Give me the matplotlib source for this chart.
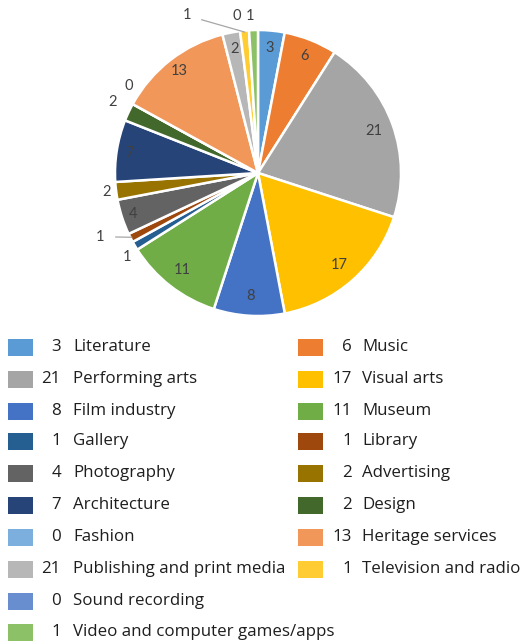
import numpy as np
import matplotlib
matplotlib.use("Agg")
import matplotlib.pyplot as plt
from matplotlib.patches import Rectangle

plt.rcParams['font.family'] = ['Lato', 'DejaVu Sans']

# sectors, clockwise from 12 o'clock
sectors = ["Literature", "Music", "Performing arts", "Visual arts", "Film industry",
           "Museum", "Gallery", "Library", "Photography", "Advertising",
           "Architecture", "Design", "Fashion", "Heritage services",
           "Publishing and print media", "Television and radio", "Sound recording",
           "Video and computer games/apps"]
counts = [3, 6, 21, 17, 8, 11, 1, 1, 4, 2, 7, 2, 0, 13, 2, 1, 0, 1]
# numbers printed in the key (publishing reads 21 there)
key_numbers = ["3", "6", "21", "17", "8", "11", "1", "1", "4", "2",
               "7", "2", "0", "13", "21", "1", "0", "1"]
colors = ["#5B9BD5", "#ED7D31", "#A5A5A5", "#FFC000", "#4472C4", "#70AD47",
          "#255E91", "#9E480E", "#636363", "#997300", "#264478", "#43682B",
          "#7CAFDD", "#F1975A", "#B7B7B7", "#FFCD33", "#698ED0", "#8CC168"]

# label placement: radius and angular nudge (deg) per slice
label_r = [0.88, 0.88, 0.86, 0.86, 0.86, 0.86, 1.09, 1.19, 0.92, 1.07,
           0.91, 1.13, 1.09, 0.90, 0.88, 1.21, 1.11, 1.10]
label_nudge = [0, 0, 0, 0, 0, 0, 2, -5, 0, 0, 0, -1, -5, 0, 0, 19, 4, 1]
leader = [False] * 7 + [True] + [False] * 7 + [True] + [False] * 2

W, H = 525, 644
fig = plt.figure(figsize=(W / 100, H / 100), dpi=100)

cx, cy, rad = 258, 173, 143
ax = fig.add_axes([(cx - rad) / W, (H - cy - rad) / H, 2 * rad / W, 2 * rad / H])
wedges, _ = ax.pie(counts, colors=colors, startangle=90, counterclock=False,
                   radius=1, wedgeprops=dict(edgecolor="white", linewidth=1.8))
ax.set_xlim(-1, 1)
ax.set_ylim(-1, 1)
ax.set_aspect("equal")
ax.axis("off")

for w, v, r, nd, ld in zip(wedges, counts, label_r, label_nudge, leader):
    mid = np.deg2rad((w.theta1 + w.theta2) / 2)
    a = mid + np.deg2rad(nd)
    tx, ty = r * np.cos(a), r * np.sin(a)
    if ld:
        ex, ey = 0.99 * np.cos(mid), 0.99 * np.sin(mid)
        ax.annotate(str(v), xy=(ex, ey), xytext=(tx, ty), ha="center", va="center",
                    fontsize=10.5, color="#404040", annotation_clip=False,
                    arrowprops=dict(arrowstyle="-", color="#A6A6A6", lw=0.9,
                                    shrinkA=6, shrinkB=0))
    else:
        ax.text(tx, ty, str(v), ha="center", va="center", fontsize=10.5,
                color="#404040", clip_on=False)

# two-column key below the pie
key_font = dict(family=["Open Sans", "DejaVu Sans"], fontsize=12.2, color="#1E1E1E")
row_y = [347, 379, 411, 441, 473, 505, 537, 569, 601, 632]
col_sw = [8, 298]
col_num = [61, 352]
col_lab = [73, 362]
for i, (name, num, c) in enumerate(zip(sectors, key_numbers, colors)):
    if i < 16:
        row, col = i // 2, i % 2
    else:
        row, col = 8 + (i - 16), 0
    y = row_y[row]
    fig.add_artist(Rectangle((col_sw[col] / W, (H - y - 8.5) / H), 25 / W, 17 / H,
                             transform=fig.transFigure, facecolor=c,
                             edgecolor="none"))
    fig.text(col_num[col] / W, (H - y) / H, num, ha="right", va="center", **key_font)
    fig.text(col_lab[col] / W, (H - y) / H, name, ha="left", va="center", **key_font)

fig.savefig("out.png", dpi=100, facecolor="white")
